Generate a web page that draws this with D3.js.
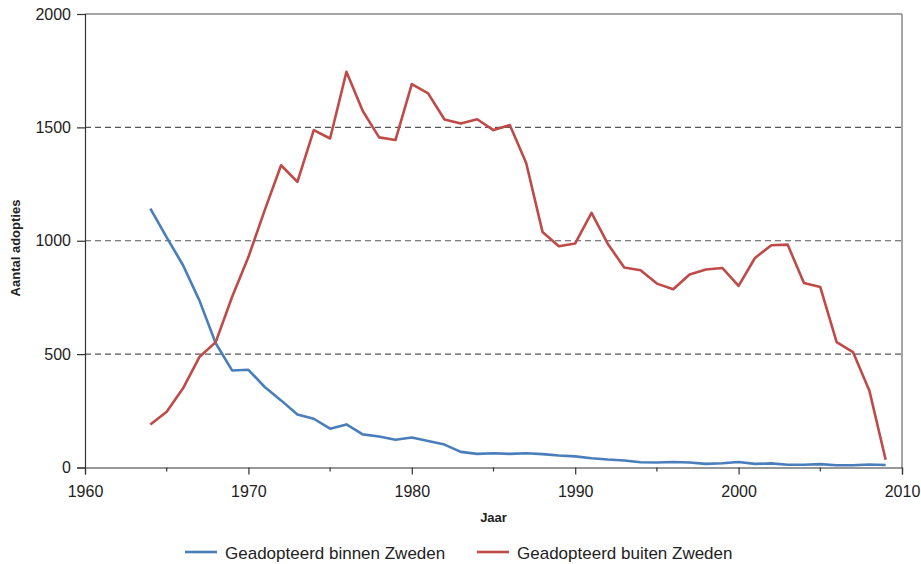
<!DOCTYPE html>
<html>
<head>
<meta charset="utf-8">
<script src="https://cdn.jsdelivr.net/npm/d3@7"></script>
<style>
  html, body { margin: 0; padding: 0; background: #fff; }
  svg { display: block; font-family: "Liberation Sans", Arial, sans-serif; }
</style>
</head>
<body>
<svg id="chart" width="921" height="564"></svg>
<script>
const years = d3.range(1964, 2010);
const binnenZweden = [1142, 1015, 892, 737, 548, 428, 431, 355, 296, 234, 215, 171, 190, 146, 137, 122, 132, 117, 101, 69, 60, 63, 60, 63, 59, 53, 49, 41, 35, 31, 23, 22, 24, 22, 16, 19, 24, 16, 18, 12, 12, 15, 10, 10, 13, 11];
const buitenZweden = [190, 246, 349, 487, 553, 752, 928, 1135, 1333, 1260, 1488, 1451, 1745, 1572, 1456, 1444, 1691, 1650, 1535, 1517, 1536, 1488, 1510, 1343, 1039, 976, 988, 1123, 986, 882, 870, 811, 786, 851, 873, 880, 801, 924, 980, 983, 814, 796, 553, 509, 340, 34];
const yTicks = [0, 500, 1000, 1500, 2000];
const xTicks = [1960, 1970, 1980, 1990, 2000, 2010];
const xMinorTicks = [1965, 1975, 1985, 1995, 2005];
const seriesNames = ["Geadopteerd binnen Zweden", "Geadopteerd buiten Zweden"];
const seriesColors = ["#4a7ebb", "#be4b48"];

(function () {
const svg = d3.select("#chart");
const mLeft = 85, mRight = 902, mTop = 14, mBottom = 467.5;
const x = d3.scaleLinear().domain([1960, 2010]).range([mLeft, mRight]);
const y = d3.scaleLinear().domain([0, 2000]).range([mBottom, mTop]);

// gridlines
svg.append("g").selectAll("line").data(yTicks.filter(d => d > 0 && d < 2000)).join("line")
  .attr("x1", mLeft).attr("x2", mRight)
  .attr("y1", d => y(d)).attr("y2", d => y(d))
  .attr("stroke", "#555").attr("stroke-width", 1.2).attr("stroke-dasharray", "6,4");

// frame top & right
svg.append("line").attr("x1", mLeft).attr("x2", mRight).attr("y1", y(2000)).attr("y2", y(2000))
  .attr("stroke", "#888").attr("stroke-width", 1.5);
svg.append("line").attr("x1", mRight).attr("x2", mRight).attr("y1", y(2000)).attr("y2", y(0))
  .attr("stroke", "#888").attr("stroke-width", 1.5);

// y axis
const yAxis = svg.append("g").attr("transform", `translate(${mLeft},0)`)
  .call(d3.axisLeft(y).tickValues(yTicks).tickSize(8).tickPadding(6).tickFormat(d3.format("d")));
yAxis.select(".domain").attr("stroke", "#333").attr("stroke-width", 1.2);
yAxis.selectAll(".tick line").attr("stroke", "#333").attr("stroke-width", 1.2);
yAxis.selectAll("text").attr("font-size", 16).attr("fill", "#222").attr("font-family", "Liberation Sans, Arial, sans-serif");

// x axis
const xAxis = svg.append("g").attr("transform", `translate(0,${mBottom})`)
  .call(d3.axisBottom(x).tickValues(xTicks).tickSize(7).tickPadding(11).tickFormat(d3.format("d")));
xAxis.select(".domain").attr("stroke", "#333").attr("stroke-width", 1.2);
xAxis.selectAll(".tick line").attr("stroke", "#333").attr("stroke-width", 1.2);
xAxis.selectAll("text").attr("font-size", 16).attr("fill", "#222").attr("font-family", "Liberation Sans, Arial, sans-serif");
svg.append("g").selectAll("line").data(xMinorTicks).join("line")
  .attr("x1", d => x(d)).attr("x2", d => x(d))
  .attr("y1", mBottom).attr("y2", mBottom + 4)
  .attr("stroke", "#333").attr("stroke-width", 1.2);

// axis titles
svg.append("text").attr("x", (mLeft + mRight) / 2).attr("y", 522).attr("text-anchor", "middle")
  .attr("font-size", 13).attr("font-weight", "bold").attr("fill", "#222").text("Jaar");
svg.append("text").attr("transform", `translate(20,248) rotate(-90)`)
  .attr("text-anchor", "middle").attr("font-size", 13).attr("font-weight", "bold").attr("fill", "#222")
  .text("Aantal adopties");

// lines
const line = d3.line().x((d, i) => x(years[i])).y(d => y(d));
[binnenZweden, buitenZweden].forEach((s, k) => {
  svg.append("path").datum(s).attr("d", line)
    .attr("fill", "none").attr("stroke", seriesColors[k]).attr("stroke-width", 2.6)
    .attr("stroke-linejoin", "round");
});

// legend
const legendX = [185, 477];
seriesNames.forEach((name, k) => {
  svg.append("line").attr("x1", legendX[k]).attr("x2", legendX[k] + 32)
    .attr("y1", 552).attr("y2", 552).attr("stroke", seriesColors[k]).attr("stroke-width", 2.6);
  svg.append("text").attr("x", legendX[k] + 40).attr("y", 559)
    .attr("font-size", 17).attr("fill", "#222").text(name);
});
})();
</script>
</body>
</html>
